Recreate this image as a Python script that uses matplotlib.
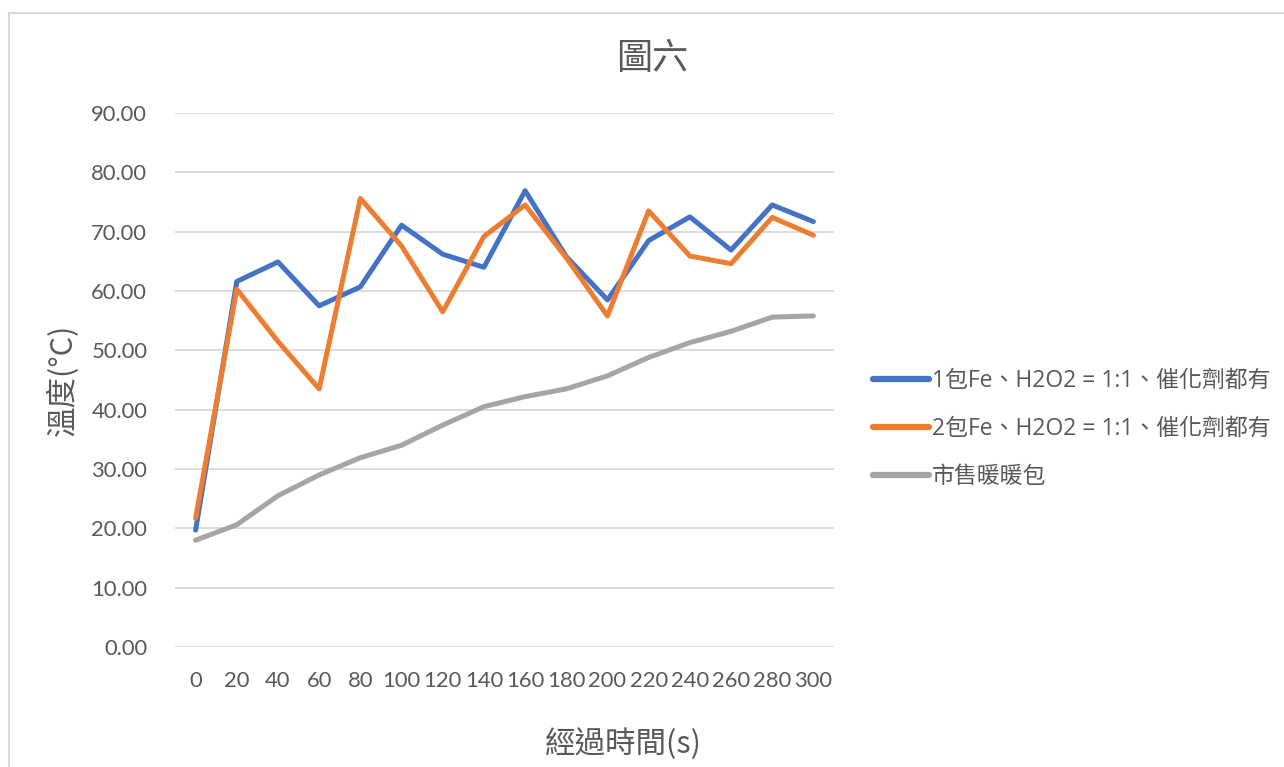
import matplotlib
matplotlib.use("Agg")
import matplotlib.pyplot as plt
from matplotlib.patches import Rectangle

# Elapsed time (s) and measured temperatures (°C)
times = [0, 20, 40, 60, 80, 100, 120, 140, 160, 180, 200, 220, 240, 260, 280, 300]
one_pack = [19.7, 61.6, 64.9, 57.5, 60.7, 71.1, 66.2, 64.0,
            76.9, 65.8, 58.5, 68.5, 72.5, 66.9, 74.5, 71.7]
two_pack = [21.7, 60.3, 51.5, 43.5, 75.6, 67.6, 56.5, 69.2,
            74.5, 65.6, 55.8, 73.5, 65.9, 64.6, 72.4, 69.4]
commercial = [18.0, 20.6, 25.5, 29.0, 31.9, 34.0, 37.4, 40.5,
              42.2, 43.5, 45.7, 48.8, 51.3, 53.2, 55.6, 55.8]

series_names = ["1包Fe、H2O2 = 1:1、催化劑都有",
                "2包Fe、H2O2 = 1:1、催化劑都有",
                "市售暖暖包"]
series_colors = ["#4472C4", "#ED7D31", "#A5A5A5"]
y_ticks = [0, 10, 20, 30, 40, 50, 60, 70, 80, 90]

TEXT = "#595959"
LATIN = ["Lato", "Noto Sans CJK TC"]
LEGEND_FONT = ["Open Sans", "Noto Sans CJK TC"]
CJK = ["Noto Sans CJK TC", "DejaVu Sans"]

W, H = 1284, 767
fig = plt.figure(figsize=(W / 100, H / 100), dpi=100)
fig.patch.set_facecolor("white")

# chart-area border (top and left edges visible)
fig.patches.append(Rectangle((9 / W, -0.1), 1.2, 1 - 13 / H + 0.1,
                             transform=fig.transFigure, fill=False,
                             edgecolor="#D9D9D9", linewidth=1.5))

left, right, top, bottom = 175, 834, 113, 647
ax = fig.add_axes([left / W, 1 - bottom / H, (right - left) / W, (bottom - top) / H])

x = list(range(len(times)))
for vals, name, col in zip([one_pack, two_pack, commercial], series_names, series_colors):
    ax.plot(x, vals, color=col, linewidth=3.6, label=name,
            solid_capstyle="round", solid_joinstyle="round", zorder=3)

ax.set_xlim(-0.5, len(times) - 0.5)
ax.set_ylim(0, 90)
ax.set_yticks(y_ticks)
ax.set_yticklabels([f"{v:.2f}" for v in y_ticks], fontfamily=LATIN, fontsize=15.8, color=TEXT)
ax.set_xticks(x)
ax.set_xticklabels([str(t) for t in times], fontfamily=LATIN, fontsize=15.8, color=TEXT)
ax.tick_params(length=0)
ax.tick_params(axis="y", pad=20)
ax.tick_params(axis="x", pad=17)
ax.grid(axis="y", color="#D9D9D9", linewidth=1.3, zorder=0)
ax.set_axisbelow(True)
for s in ax.spines.values():
    s.set_visible(False)

fig.text(652 / W, 1 - 59 / H, "圖六", ha="center", va="center",
         fontfamily=CJK, fontsize=26, color=TEXT)
fig.text(623 / W, 1 - 744 / H, "經過時間(s)", ha="center", va="center",
         fontfamily=CJK, fontsize=22, color=TEXT)
fig.text(63 / W, 1 - 380 / H, "溫度(°C)", ha="center", va="center", rotation=90,
         fontfamily=CJK, fontsize=22, color=TEXT)

leg = fig.legend(loc="center left", bbox_to_anchor=(873 / W, 1 - 429 / H),
                 frameon=False, handlelength=2.45, handletextpad=0.12,
                 labelspacing=1.05, borderpad=0, borderaxespad=0,
                 prop={"family": LEGEND_FONT, "size": 16.5})
for t in leg.get_texts():
    t.set_color(TEXT)
for l in leg.get_lines():
    l.set_linewidth(4.5)
    l.set_solid_capstyle("round")

fig.savefig("out.png", dpi=100, facecolor="white")
